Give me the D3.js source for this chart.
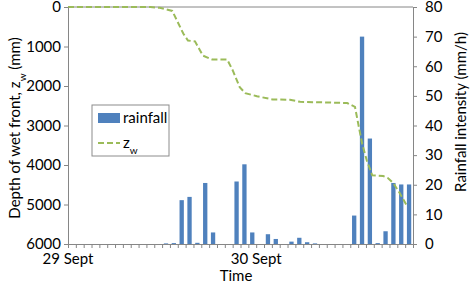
<!DOCTYPE html>
<html>
<head>
<meta charset="utf-8">
<script src="https://cdn.jsdelivr.net/npm/d3@7"></script>
<style>
  body { margin: 0; background: #fff; }
  text { font-family: Lato, "Open Sans", sans-serif; fill: #000; }
</style>
</head>
<body>
<div id="chart"></div>
<script>
// hourly rainfall (mm/h), one value per hour from 29 Sept 00:00
const rainfall = [
  0, 0, 0, 0, 0, 0, 0, 0, 0, 0, 0, 0,
  0.2, 0.3, 14.8, 15.9, 0.4, 20.6, 3.9, 0, 0, 21.1, 26.9, 3.9,
  0, 3.3, 1.7, 0, 0.8, 2.1, 0.6, 0.2, 0, 0, 0, 0,
  9.6, 70, 35.6, 0.3, 4.3, 20.6, 20.1, 20.1
];

// wet front depth z_w (mm) against time (hours)
const zwHours = [0, 10.5, 11.7, 13.3, 14.7, 15.3, 16.2, 17.2, 18.4, 20.3, 21.0, 21.9, 22.6,
  24.1, 26.1, 28.3, 29.6, 35.6, 36.6, 37.0, 37.5, 38.1, 38.8, 40.2, 40.8, 41.5, 42.3, 43.3];
const zwDepth = [0, 0, 20, 100, 670, 850, 870, 1230, 1330, 1330, 1600, 2030, 2180,
  2260, 2340, 2350, 2400, 2430, 2530, 2940, 3450, 3880, 4260, 4280, 4330, 4460, 4710, 5060];

const dayLabels = ['29 Sept', '30 Sept'];
const dayHours = [0, 24];

const depthTicks = [0, 1000, 2000, 3000, 4000, 5000, 6000];
const rainTicks = [0, 10, 20, 30, 40, 50, 60, 70, 80];

const width = 472, height = 285;
const plotLeft = 68, plotRight = 413, plotTop = 7, plotBottom = 244;
const axisColor = '#868686';

const svg = d3.select('#chart').append('svg')
    .attr('width', width)
    .attr('height', height);

// scales
const xBand = d3.scaleBand()
    .domain(rainfall.map((d, i) => i))
    .range([plotLeft, plotRight])
    .paddingInner(0.45)
    .paddingOuter(0.225);
const xHour = d3.scaleLinear().domain([0, rainfall.length]).range([plotLeft, plotRight]);
const yDepth = d3.scaleLinear().domain([0, 6000]).range([plotTop, plotBottom]);
const yRain = d3.scaleLinear().domain([0, 80]).range([plotBottom, plotTop]);

// top border of plot
svg.append('line')
    .attr('x1', plotLeft).attr('x2', plotRight)
    .attr('y1', plotTop).attr('y2', plotTop)
    .attr('stroke', axisColor);

// bars
svg.append('g').selectAll('rect')
    .data(rainfall)
    .join('rect')
    .attr('x', (d, i) => xBand(i))
    .attr('width', xBand.bandwidth())
    .attr('y', d => yRain(d))
    .attr('height', d => plotBottom - yRain(d))
    .attr('fill', '#4f81bd');

// z_w line
const line = d3.line()
    .x((d, i) => xHour(zwHours[i]))
    .y(d => yDepth(d));
svg.append('path')
    .datum(zwDepth)
    .attr('d', line)
    .attr('fill', 'none')
    .attr('stroke', '#9bbb59')
    .attr('stroke-width', 2)
    .attr('stroke-dasharray', '6,3');

// left axis
const gLeft = svg.append('g')
    .attr('transform', `translate(${plotLeft},0)`)
    .call(d3.axisLeft(yDepth).tickValues(depthTicks).tickFormat(d3.format('d'))
        .tickSize(4).tickPadding(3).tickSizeOuter(0));

// right axis
const gRight = svg.append('g')
    .attr('transform', `translate(${plotRight},0)`)
    .call(d3.axisRight(yRain).tickValues(rainTicks).tickSize(4).tickPadding(8).tickSizeOuter(0));

// bottom axis, tick on every hour boundary
const gBottom = svg.append('g')
    .attr('transform', `translate(0,${plotBottom})`)
    .call(d3.axisBottom(xHour).tickValues(d3.range(rainfall.length + 1)).tickSize(4).tickFormat('').tickSizeOuter(0));

[gLeft, gRight, gBottom].forEach(g => {
    g.selectAll('path, line').attr('stroke', axisColor);
    g.selectAll('text').style('font-size', '15px').attr('fill', '#000');
});

// day labels
svg.append('g').selectAll('text')
    .data(dayLabels)
    .join('text')
    .attr('x', (d, i) => xHour(dayHours[i]))
    .attr('y', 264)
    .attr('text-anchor', 'middle')
    .style('font-size', '15px')
    .text(d => d);

// axis titles
svg.append('text')
    .attr('x', 236).attr('y', 281)
    .attr('text-anchor', 'middle')
    .style('font-size', '15px')
    .text('Time');

const leftTitle = svg.append('text')
    .attr('transform', 'translate(20,128) rotate(-90)')
    .attr('text-anchor', 'middle')
    .style('font-size', '15px');
leftTitle.append('tspan').text('Depth of wet front, z');
leftTitle.append('tspan').attr('baseline-shift', 'sub').style('font-size', '10px').text('w');
leftTitle.append('tspan').text(' (mm)');

svg.append('text')
    .attr('transform', 'translate(466,112) rotate(-90)')
    .attr('text-anchor', 'middle')
    .style('font-size', '15px')
    .text('Rainfall intensity (mm/h)');

// legend
const legend = svg.append('g').attr('transform', 'translate(92,105)');
legend.append('rect')
    .attr('width', 77).attr('height', 51)
    .attr('fill', '#fff')
    .attr('stroke', '#8c8c8c');
legend.append('rect')
    .attr('x', 6).attr('y', 8)
    .attr('width', 22).attr('height', 10)
    .attr('fill', '#4f81bd');
legend.append('text')
    .attr('x', 31).attr('y', 18)
    .style('font-size', '15px')
    .text('rainfall');
legend.append('line')
    .attr('x1', 6).attr('x2', 28)
    .attr('y1', 38).attr('y2', 38)
    .attr('stroke', '#9bbb59')
    .attr('stroke-width', 2)
    .attr('stroke-dasharray', '6,3');
const zLabel = legend.append('text')
    .attr('x', 31).attr('y', 43)
    .style('font-size', '15px');
zLabel.append('tspan').text('z');
zLabel.append('tspan').attr('baseline-shift', 'sub').style('font-size', '10px').text('w');
</script>
</body>
</html>
